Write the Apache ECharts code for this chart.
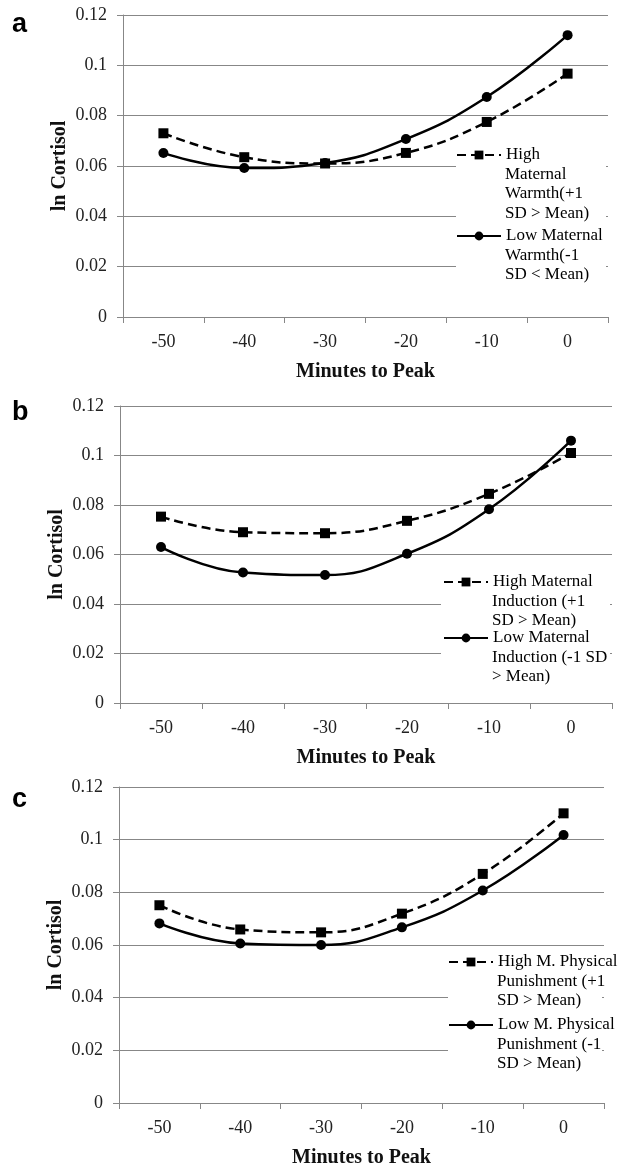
<!DOCTYPE html>
<html>
<head>
<meta charset="utf-8">
<style>
  html, body { margin: 0; padding: 0; background: #fff; }
  #main { width: 626px; height: 1169px; }
</style>
<script src="https://cdn.jsdelivr.net/npm/echarts@6/dist/echarts.min.js"></script>
</head>
<body>
<div id="main"></div>
<script>
  // data (ln cortisol by minutes to peak)
  var minutes = ['-50', '-40', '-30', '-20', '-10', '0'];
  var warmthHigh = [0.0730, 0.0635, 0.0610, 0.0652, 0.0775, 0.0967];
  var warmthLow = [0.0652, 0.0592, 0.0612, 0.0707, 0.0874, 0.1120];
  var inductionHigh = [0.0753, 0.0690, 0.0686, 0.0736, 0.0845, 0.1010];
  var inductionLow = [0.0630, 0.0527, 0.0517, 0.0603, 0.0783, 0.1060];
  var punishHigh = [0.0751, 0.0659, 0.0648, 0.0719, 0.0870, 0.1100];
  var punishLow = [0.0682, 0.0606, 0.0600, 0.0667, 0.0807, 0.1018];
  var yMax = 0.12;
  var yStep = 0.02;
  var panelLetters = ['a', 'b', 'c'];

  // legend texts, one entry per line
  var legendLines = [
    [['High', 'Maternal', 'Warmth(+1', 'SD > Mean)'], ['Low Maternal', 'Warmth(-1', 'SD < Mean)']],
    [['High Maternal', 'Induction (+1', 'SD > Mean)'], ['Low Maternal', 'Induction (-1 SD', '> Mean)']],
    [['High M. Physical', 'Punishment (+1', 'SD > Mean)'], ['Low M. Physical', 'Punishment (-1', 'SD > Mean)']]
  ];
  var panelData = [[warmthHigh, warmthLow], [inductionHigh, inductionLow], [punishHigh, punishLow]];

  var serif = 'Liberation Serif';
  var gridColor = '#878787';
  var lineH = 19.4;

  var grids = [
    {left: 123, top: 15, width: 485, height: 302},
    {left: 120, top: 406, width: 492, height: 297},
    {left: 119, top: 787, width: 485, height: 319}
  ];
  var letterTops = [11, 399, 786];
  // legend: text start x, icon centre y of each item
  var legendPos = [
    {x: 505, y: [155, 236]},
    {x: 492, y: [582, 638]},
    {x: 497, y: [962, 1025]}
  ];
  var masks = [
    {x: 456, y: 140, w: 150, h: 150},
    {x: 441, y: 566, w: 169, h: 128},
    {x: 448, y: 952, w: 154, h: 122}
  ];

  var xAxes = [], yAxes = [], series = [], legends = [], titles = [], graphics = [];

  function legendText(lines) {
    return function () { return lines; };
  }

  grids.forEach(function (g, i) {
    xAxes.push({
      type: 'category', gridIndex: i, data: minutes,
      boundaryGap: true,
      name: 'Minutes to Peak', nameLocation: 'middle', nameGap: 45,
      nameTextStyle: {fontFamily: serif, fontWeight: 'bold', fontSize: 20, color: '#111'},
      axisLine: {lineStyle: {color: gridColor, width: 1}},
      axisTick: {show: true, length: 6, lineStyle: {color: gridColor}},
      axisLabel: {fontFamily: serif, fontSize: 18, color: '#222', margin: 16},
      splitLine: {show: false}
    });
    yAxes.push({
      type: 'value', gridIndex: i, min: 0, max: yMax, interval: yStep,
      name: 'ln Cortisol', nameLocation: 'middle', nameGap: 53, nameMoveOverlap: false,
      nameTextStyle: {fontFamily: serif, fontWeight: 'bold', fontSize: 20, color: '#111'},
      axisLine: {show: true, lineStyle: {color: gridColor, width: 1}},
      axisTick: {show: true, length: 6, lineStyle: {color: gridColor}},
      axisLabel: {fontFamily: serif, fontSize: 18, color: '#222', margin: 16,
        formatter: function (v) { return String(+v.toFixed(2)); }},
      splitLine: {show: true, lineStyle: {color: gridColor, width: 1}}
    });

    legendLines[i].forEach(function (lines, k) {
      var name = lines.join(' ');
      var isHigh = k === 0;
      series.push({
        name: name, type: 'line', xAxisIndex: i, yAxisIndex: i,
        data: panelData[i][k],
        smooth: 0.45,
        symbol: isHigh ? 'rect' : 'circle',
        symbolSize: 10,
        lineStyle: {color: '#000', width: 2.5, type: isHigh ? [9, 5] : 'solid'},
        itemStyle: {color: '#000'},
        z: 3
      });

      var y0 = legendPos[i].y[k];
      var txt = {fontFamily: serif, fontSize: 17, color: '#000', lineHeight: lineH};
      // first line with the line/symbol icon
      legends.push({
        data: [name], orient: 'vertical',
        left: legendPos[i].x - 49, top: y0 - lineH / 2,
        padding: 0, itemWidth: 44, itemHeight: 11,
        selectedMode: false,
        formatter: legendText(lines[0]),
        textStyle: txt
      });
      // the wrapped lines below it, no icon
      legends.push({
        data: [name], orient: 'vertical', icon: 'none',
        left: legendPos[i].x - 49, top: y0 + lineH / 2,
        padding: 0, itemWidth: 44, itemHeight: 11,
        selectedMode: false,
        formatter: legendText(lines.slice(1).join('\n')),
        textStyle: txt
      });
    });

    titles.push({
      text: panelLetters[i], left: 12, top: letterTops[i], padding: 0,
      textStyle: {fontFamily: 'Liberation Sans', fontWeight: 'bold', fontSize: 27, color: '#000'}
    });

    // white box behind the legend hides the grid lines, as in the figure
    graphics.push({
      type: 'rect', z: 1, silent: true,
      shape: {x: masks[i].x, y: masks[i].y, width: masks[i].w, height: masks[i].h},
      style: {fill: '#fff'}
    });
  });

  var myChart = echarts.init(document.getElementById('main'), null, {renderer: 'canvas'});
  myChart.setOption({
    backgroundColor: '#fff',
    animation: false,
    title: titles,
    grid: grids,
    xAxis: xAxes,
    yAxis: yAxes,
    legend: legends,
    graphic: graphics,
    series: series
  });
</script>
</body>
</html>
